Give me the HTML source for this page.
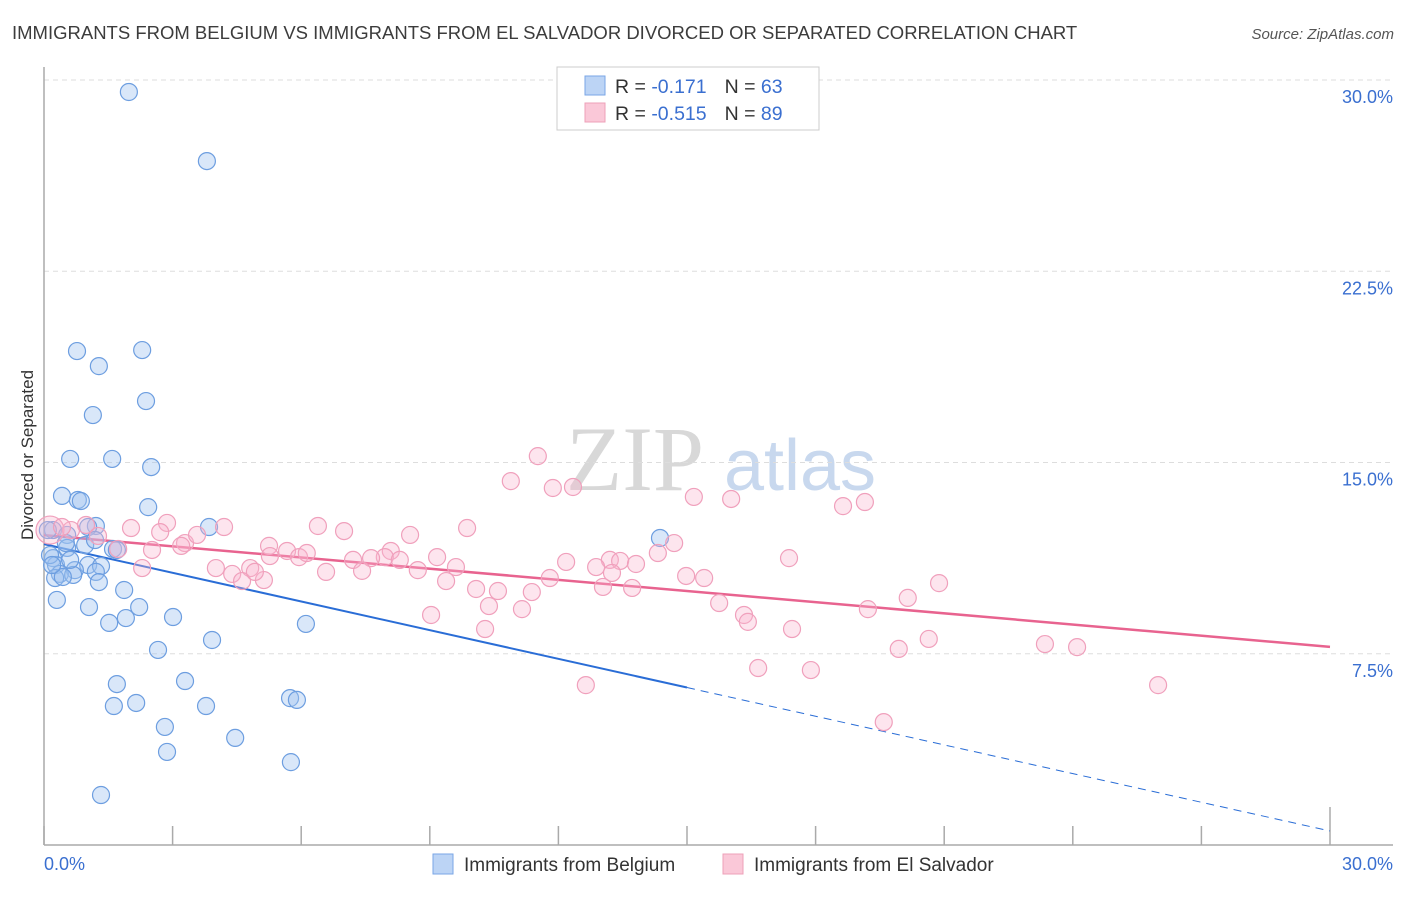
<!DOCTYPE html>
<html><head><meta charset="utf-8">
<style>
body{margin:0;background:#fff;font-family:"Liberation Sans",sans-serif}
svg text{font-family:"Liberation Sans",sans-serif}
</style></head>
<body>
<svg id="chart" width="1406" height="892" viewBox="0 0 1406 892">
<text x="12" y="39" font-size="18.5" fill="#3c3c3c">IMMIGRANTS FROM BELGIUM VS IMMIGRANTS FROM EL SALVADOR DIVORCED OR SEPARATED CORRELATION CHART</text>
<text x="1394" y="39" font-size="15" fill="#555" text-anchor="end" font-style="italic">Source: ZipAtlas.com</text>
<g>
<text x="635" y="490" font-size="92" fill="#d8d8d8" font-family="Liberation Serif" text-anchor="middle" style="font-family:'Liberation Serif',serif">ZIP</text>
<text x="800" y="490" font-size="72" fill="#c8d8ee" text-anchor="middle">atlas</text>
</g>
<g id="grid"></g>
<g id="axes"></g>
<g id="trends"></g>
<g id="points"></g>
<text transform="translate(33,455) rotate(-90)" font-size="17" fill="#333" text-anchor="middle">Divorced or Separated</text>
<g>
<rect x="557" y="67" width="262" height="63" fill="#fff" stroke="#ccc"/>
<rect x="585" y="76" width="20" height="19" fill="#bcd4f5" stroke="#7aa6e6"/>
<rect x="585" y="103" width="20" height="19" fill="#fac8d8" stroke="#eea0b8"/>
<text x="615" y="93" font-size="19.5" fill="#333">R = <tspan fill="#3a6fd0">-0.171</tspan><tspan dx="18">N = </tspan><tspan fill="#3a6fd0">63</tspan></text>
<text x="615" y="120" font-size="19.5" fill="#333">R = <tspan fill="#3a6fd0">-0.515</tspan><tspan dx="18">N = </tspan><tspan fill="#3a6fd0">89</tspan></text>
</g>
<g>
<rect x="433" y="854" width="20" height="20" fill="#bcd4f5" stroke="#7aa6e6"/>
<text x="464" y="871" font-size="19" fill="#333">Immigrants from Belgium</text>
<rect x="723" y="854" width="20" height="20" fill="#fac8d8" stroke="#eea0b8"/>
<text x="754" y="871" font-size="19" fill="#333">Immigrants from El Salvador</text>
</g>
</svg>
<script>
const yTicks=[7.5,15,22.5,30];
const yTickLabels=["7.5%","15.0%","22.5%","30.0%"];
const xTicks=[0,3,6,9,12,15,18,21,24,27,30];
const xEndLabels=["0.0%","30.0%"];
const blueX=[1.98,3.80,0.77,2.29,1.28,2.38,1.14,0.61,1.59,2.50,0.42,0.79,0.86,2.43,1.21,1.03,0.21,0.54,1.61,0.54,0.21,0.28,1.03,1.33,0.72,0.37,1.21,0.68,0.26,0.44,1.28,1.87,0.30,2.22,1.05,3.01,1.91,1.52,6.11,3.92,2.66,1.70,3.29,5.74,5.90,1.63,2.15,3.78,2.82,4.46,2.87,5.76,1.33,14.37,3.85,0.14,0.09,0.96,0.61,1.70,0.51,0.19,1.19];
const blueY=[29.53,26.82,19.37,19.41,18.78,17.41,16.86,15.14,15.14,14.82,13.69,13.53,13.49,13.25,12.51,12.47,12.35,12.16,11.61,11.65,11.25,10.98,10.98,10.94,10.78,10.63,10.71,10.59,10.47,10.51,10.31,10.00,9.61,9.33,9.33,8.94,8.90,8.71,8.67,8.04,7.65,6.31,6.43,5.76,5.69,5.45,5.57,5.45,4.63,4.20,3.65,3.25,1.96,12.04,12.47,11.37,12.35,11.76,11.18,11.57,11.84,10.98,11.96];
const pinkX=[0.14,11.52,10.89,11.87,12.34,15.16,16.03,19.15,18.64,9.87,6.39,8.54,7.00,4.20,2.87,2.71,2.03,0.98,1.26,0.63,0.42,1.73,2.52,3.29,3.57,3.20,5.25,5.67,5.95,6.13,5.27,4.81,7.21,8.09,7.95,7.63,8.30,9.17,9.61,12.18,13.20,14.32,14.70,13.44,13.81,17.38,2.29,4.01,4.39,4.62,5.13,4.92,6.58,7.42,8.72,9.38,11.80,12.88,13.25,14.98,15.40,20.88,10.08,10.59,11.38,13.04,13.72,10.38,11.15,15.75,19.22,20.15,9.03,16.33,16.42,10.29,17.45,20.64,23.35,24.10,19.94,16.66,17.89,12.64,25.99,19.59];
const pinkY=[12.35,15.25,14.27,14.00,14.04,13.65,13.57,13.45,13.29,12.43,12.51,12.16,12.31,12.47,12.63,12.27,12.43,12.55,12.12,12.35,12.47,11.61,11.57,11.84,12.16,11.73,11.73,11.53,11.29,11.45,11.33,10.86,11.18,11.53,11.29,11.25,11.18,11.29,10.90,11.10,11.18,11.45,11.84,11.14,11.02,11.25,10.86,10.86,10.63,10.35,10.39,10.71,10.71,10.75,10.78,10.35,10.47,10.90,10.67,10.55,10.47,10.27,10.04,9.96,9.92,10.12,10.08,9.37,9.25,9.49,9.25,9.69,9.02,9.02,8.75,8.47,8.47,8.08,7.88,7.76,7.69,6.94,6.86,6.27,6.27,4.82];
const blueTrend=[11.8,-0.375];
const pinkTrend=[12.15,-0.146];
const blueSolidEnd=15;

const NS="http://www.w3.org/2000/svg";
const X0=44,X1=1330,Y0=845,Y1=80;
const sx=v=>X0+(v/30)*(X1-X0);
const sy=v=>Y0-(v/30)*(Y0-Y1);
function mk(tag,attrs,parent){const e=document.createElementNS(NS,tag);for(const k in attrs)e.setAttribute(k,attrs[k]);document.getElementById(parent).appendChild(e);return e;}

yTicks.forEach((t,i)=>{
  const g=mk('line',{x1:X0,x2:1393,y1:sy(t),y2:sy(t),stroke:'#ddd','stroke-dasharray':'5,4'},'grid');
  
  
  const l=mk('text',{x:1393,y:sy(t)+23,'font-size':18,fill:'#3a6fd0','text-anchor':'end'},'grid');
  l.textContent=yTickLabels[i];
  
  
});
const ya=mk('line',{x1:X0,x2:X0,y1:67,y2:Y0,stroke:'#aaa','stroke-width':1.5},'axes');


const xa=mk('line',{x1:X0,x2:1393,y1:Y0,y2:Y0,stroke:'#aaa','stroke-width':1.5},'axes');


xTicks.forEach((t,i)=>{
  const tk=mk('line',{x1:sx(t),x2:sx(t),y1:(i==xTicks.length-1?807:826),y2:Y0,stroke:'#aaa','stroke-width':1.5},'axes');
  
  
});
const xl0=mk('text',{x:sx(0),y:870,'font-size':18,fill:'#3a6fd0'},'axes');
xl0.textContent=xEndLabels[0];


const xl1=mk('text',{x:1393,y:870,'font-size':18,fill:'#3a6fd0','text-anchor':'end'},'axes');
xl1.textContent=xEndLabels[1];



const f=(tr,x)=>tr[0]+tr[1]*x;
const bt=mk('line',{x1:sx(0),y1:sy(f(blueTrend,0)),x2:sx(blueSolidEnd),y2:sy(f(blueTrend,blueSolidEnd)),stroke:'#2a6dd6','stroke-width':2},'trends');


const bd=mk('line',{x1:sx(blueSolidEnd),y1:sy(f(blueTrend,blueSolidEnd)),x2:sx(30),y2:sy(f(blueTrend,30)),stroke:'#2a6dd6','stroke-width':1,'stroke-dasharray':'8,6'},'trends');


const pt=mk('line',{x1:sx(0),y1:sy(f(pinkTrend,0)),x2:sx(30),y2:sy(f(pinkTrend,30)),stroke:'#e8638f','stroke-width':2.5},'trends');



blueX.forEach((x,i)=>{
  const c=mk('circle',{cx:sx(x),cy:sy(blueY[i]),r:8.5,fill:'rgba(160,195,240,0.4)',stroke:'#6d9ee0','stroke-width':1.2},'points');
  
  
});
pinkX.forEach((x,i)=>{
  const c=mk('circle',{cx:sx(x),cy:sy(pinkY[i]),r:i==0?14:8.5,fill:'rgba(248,180,205,0.35)',stroke:'#f0a0bc','stroke-width':1.2},'points');
  
  
});
</script>
</body></html>
